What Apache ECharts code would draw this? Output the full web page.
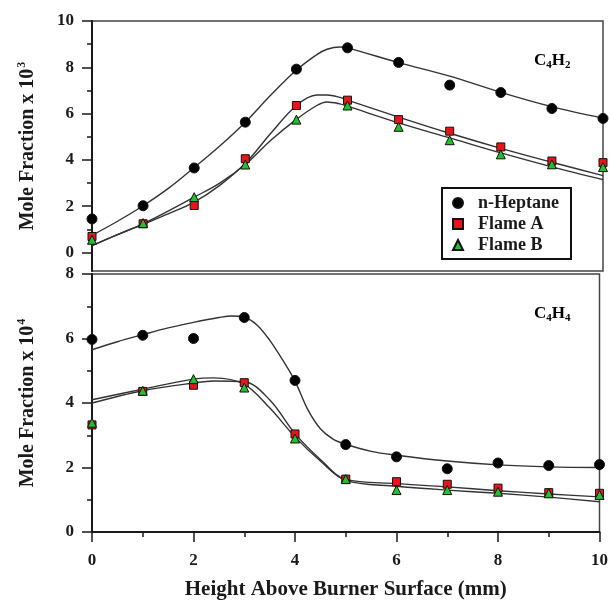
<!DOCTYPE html>
<html>
<head>
<meta charset="utf-8">
<script src="https://cdn.jsdelivr.net/npm/echarts@6/dist/echarts.min.js"></script>
<style>
  html, body { margin: 0; padding: 0; background: #fff; }
  #chart { width: 611px; height: 604px; }
</style>
</head>
<body>
<div id="chart"></div>
<script>
  // measured heights (mm)
  const heights = [0, 1, 2, 3, 4, 5, 6, 7, 8, 9, 10];

  // C4H2 mole fraction x 10^3
  const c4h2Heptane = [1.45, 2.02, 3.65, 5.63, 7.92, 8.84, 8.21, 7.23, 6.91, 6.22, 5.79];
  const c4h2FlameA = [0.69, 1.24, 2.03, 4.05, 6.35, 6.58, 5.74, 5.24, 4.56, 3.95, 3.88];
  const c4h2FlameB = [0.55, 1.27, 2.39, 3.8, 5.74, 6.35, 5.43, 4.85, 4.24, 3.81, 3.69];

  // C4H4 mole fraction x 10^4
  const c4h4Heptane = [5.97, 6.1, 6.0, 6.65, 4.7, 2.71, 2.33, 1.96, 2.14, 2.06, 2.09];
  const c4h4FlameA = [3.32, 4.36, 4.55, 4.63, 3.04, 1.64, 1.56, 1.48, 1.36, 1.22, 1.2];
  const c4h4FlameB = [3.39, 4.38, 4.74, 4.48, 2.9, 1.64, 1.3, 1.3, 1.25, 1.2, 1.15];

  // fitted curves
  const fitTopX = [0, 0.5, 1, 1.5, 2, 2.5, 3, 3.5, 4, 4.4, 4.6, 4.85, 5, 6, 7, 8, 9, 10];
  const fitTopHeptane = [0.74, 1.35, 2.02, 2.78, 3.67, 4.6, 5.63, 6.8, 7.88, 8.55, 8.78, 8.88, 8.84, 8.2, 7.62, 6.92, 6.3, 5.8];
  const fitTopFlameA = [0.3, 0.77, 1.22, 1.68, 2.18, 2.9, 3.85, 5.15, 6.35, 6.8, 6.8, 6.7, 6.58, 5.85, 5.15, 4.5, 3.9, 3.32];
  const fitTopFlameB = [0.3, 0.77, 1.24, 1.8, 2.39, 3.0, 3.8, 4.85, 5.75, 6.35, 6.5, 6.42, 6.32, 5.6, 4.95, 4.3, 3.7, 3.15];

  const fitBotHeptaneX = [0, 0.5, 1, 1.5, 2, 2.5, 2.75, 3, 3.25, 3.5, 3.75, 4, 4.25, 4.5, 4.75, 5, 5.5, 6, 7, 8, 9, 10];
  const fitBotHeptane = [5.65, 5.9, 6.12, 6.33, 6.5, 6.65, 6.7, 6.66, 6.42, 5.95, 5.35, 4.68, 3.8, 3.2, 2.88, 2.72, 2.5, 2.38, 2.2, 2.08, 2.02, 2.0];
  const fitBotFlameX = [0, 1, 2, 2.4, 3, 3.5, 4, 4.5, 5, 6, 7, 8, 9, 10];
  const fitBotFlameA = [4.0, 4.38, 4.62, 4.68, 4.66, 4.1, 3.05, 2.25, 1.63, 1.5, 1.4, 1.28, 1.18, 1.09];
  const fitBotFlameB = [4.1, 4.43, 4.74, 4.78, 4.58, 3.85, 2.95, 2.2, 1.6, 1.42, 1.3, 1.2, 1.08, 0.94];

  const font = 'Liberation Serif';
  const ink = '#1a1a1a';

  const pairs = (xs, ys) => xs.map((x, i) => [x, ys[i]]);

  function fitLine(name, xs, ys, idx) {
    return {
      name: name,
      type: 'line',
      xAxisIndex: idx,
      yAxisIndex: idx,
      data: pairs(xs, ys),
      smooth: 0.35,
      showSymbol: false,
      silent: true,
      lineStyle: { color: '#333', width: 1.4 },
      z: 2
    };
  }

  function dots(name, ys, idx, symbol, size, color) {
    return {
      name: name,
      type: 'scatter',
      xAxisIndex: idx,
      yAxisIndex: idx,
      data: pairs(heights, ys),
      symbol: symbol,
      symbolSize: size,
      itemStyle: { color: color, borderColor: '#111', borderWidth: 1, opacity: 1 },
      z: 5
    };
  }

  const tickLabel = { fontFamily: font, fontWeight: 'bold', fontSize: 17, color: ink };
  const nameRich = {
    t: { fontFamily: font, fontWeight: 'bold', fontSize: 20, color: ink },
    s: { fontFamily: font, fontWeight: 'bold', fontSize: 12, color: ink, padding: [0, 0, 12, 1] }
  };
  const formulaRich = {
    a: { fontFamily: font, fontWeight: 'bold', fontSize: 17, color: ink },
    b: { fontFamily: font, fontWeight: 'bold', fontSize: 11, color: ink, padding: [10, 0, 0, 0] }
  };

  const option = {
    backgroundColor: '#fff',
    animation: false,
    grid: [
      { left: 92, right: 8, top: 21, height: 250, show: true, borderColor: '#444', borderWidth: 1.5 },
      { left: 92, right: 8, top: 274, height: 258, show: true, borderColor: '#444', borderWidth: 1.5 }
    ],
    xAxis: [
      {
        gridIndex: 0, type: 'value', min: 0, max: 10, interval: 2,
        axisLine: { show: false }, axisTick: { show: false }, axisLabel: { show: false },
        splitLine: { show: false }
      },
      {
        gridIndex: 1, type: 'value', min: 0, max: 10, interval: 2,
        axisLine: { onZero: false, lineStyle: { color: ink, width: 2 } },
        axisTick: { length: 10, lineStyle: { color: ink, width: 1.5 } },
        minorTick: { show: true, splitNumber: 2, length: 5, lineStyle: { color: ink, width: 1.5 } },
        axisLabel: Object.assign({ margin: 20 }, tickLabel),
        splitLine: { show: false },
        name: 'Height Above Burner Surface (mm)',
        nameLocation: 'middle',
        nameGap: 47,
        nameTextStyle: { fontFamily: font, fontWeight: 'bold', fontSize: 21, color: ink }
      }
    ],
    yAxis: [
      {
        gridIndex: 0, type: 'value', min: -0.8, max: 10,
        axisLine: { onZero: false, lineStyle: { color: ink, width: 2 } },
        axisTick: { length: 10, customValues: [0, 2, 4, 6, 8, 10], lineStyle: { color: ink, width: 1.5 } },
        axisLabel: Object.assign({ margin: 18, customValues: [0, 2, 4, 6, 8, 10] }, tickLabel),
        splitLine: { show: false },
        name: '{t|Mole Fraction x 10}{s|3}',
        nameLocation: 'middle',
        nameRotate: 90,
        nameGap: 52,
        nameTextStyle: { rich: nameRich }
      },
      {
        gridIndex: 1, type: 'value', min: 0, max: 8, interval: 2,
        axisLine: { onZero: false, lineStyle: { color: ink, width: 2 } },
        axisTick: { length: 10, lineStyle: { color: ink, width: 1.5 } },
        minorTick: { show: true, splitNumber: 2, length: 5, lineStyle: { color: ink, width: 1.5 } },
        axisLabel: Object.assign({ margin: 18 }, tickLabel),
        splitLine: { show: false },
        name: '{t|Mole Fraction x 10}{s|4}',
        nameLocation: 'middle',
        nameRotate: 90,
        nameGap: 52,
        nameTextStyle: { rich: nameRich }
      },
      {
        // minor ticks for the upper panel
        gridIndex: 0, type: 'value', min: -0.8, max: 10, position: 'left',
        axisLine: { show: false },
        axisTick: { length: 5, customValues: [1, 3, 5, 7, 9], lineStyle: { color: ink, width: 1.5 } },
        axisLabel: { show: false, customValues: [1, 3, 5, 7, 9] },
        splitLine: { show: false }
      }
    ],
    legend: {
      orient: 'vertical',
      left: 442,
      top: 188,
      data: [
        { name: 'n-Heptane', itemStyle: { color: '#000' } },
        { name: 'Flame A' },
        { name: 'Flame B' }
      ],
      backgroundColor: '#fff',
      borderColor: '#111',
      borderWidth: 2,
      borderRadius: 0,
      padding: [6, 12, 5, 10],
      itemWidth: 10,
      itemHeight: 10,
      itemGap: 3,
      textStyle: { fontFamily: font, fontWeight: 'bold', fontSize: 18, color: ink, padding: [0, 0, 0, 10] }
    },
    graphic: [
      { type: 'text', left: 534, top: 52, style: { text: '{a|C}{b|4}{a|H}{b|2}', rich: formulaRich } },
      { type: 'text', left: 534, top: 305, style: { text: '{a|C}{b|4}{a|H}{b|4}', rich: formulaRich } }
    ],
    series: [
      fitLine('fit1', fitTopX, fitTopHeptane, 0),
      fitLine('fit2', fitTopX, fitTopFlameA, 0),
      fitLine('fit3', fitTopX, fitTopFlameB, 0),
      fitLine('fit4', fitBotHeptaneX, fitBotHeptane, 1),
      fitLine('fit5', fitBotFlameX, fitBotFlameA, 1),
      fitLine('fit6', fitBotFlameX, fitBotFlameB, 1),
      dots('n-Heptane', c4h2Heptane, 0, 'circle', 10, '#000'),
      dots('Flame A', c4h2FlameA, 0, 'rect', 8, '#e8141a'),
      dots('Flame B', c4h2FlameB, 0, 'triangle', 9, '#22c02a'),
      dots('n-Heptane', c4h4Heptane, 1, 'circle', 10, '#000'),
      dots('Flame A', c4h4FlameA, 1, 'rect', 8, '#e8141a'),
      dots('Flame B', c4h4FlameB, 1, 'triangle', 9, '#22c02a')
    ]
  };

  const myChart = echarts.init(document.getElementById('chart'));
  myChart.setOption(option);
</script>
</body>
</html>
